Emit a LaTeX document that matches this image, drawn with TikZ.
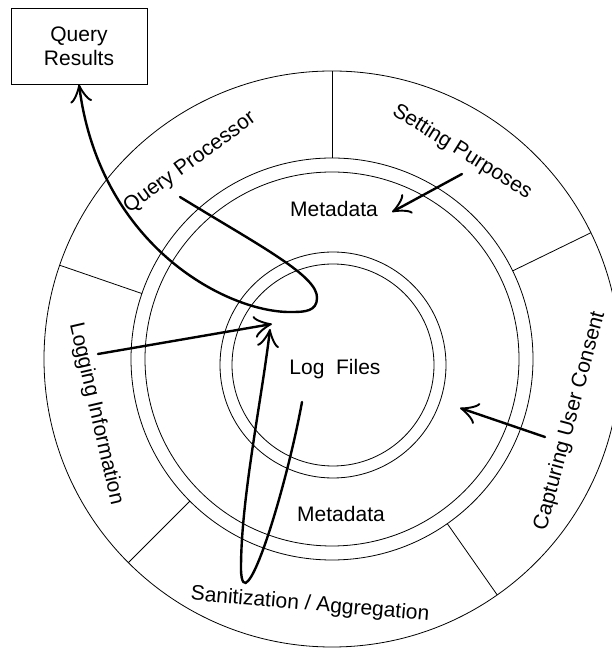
\documentclass[tikz,border=0pt]{standalone}
\usepackage{fontspec}
\setmainfont{Liberation Sans}
\usetikzlibrary{arrows.meta}
\begin{document}
\begin{tikzpicture}[x=1bp,y=1bp,
  ring/.style={line width=0.8bp},
  lbl/.style={font=\fontsize{21bp}{24bp}\selectfont, inner sep=0pt},
  arr/.style={line width=2.4bp, line cap=round, -{Classical TikZ Rightarrow[length=18bp,width=22bp]}},
]
\useasboundingbox (0,0) rectangle (612,648);
\coordinate (O) at (332,289);
\coordinate (I) at (333,283);
\draw[ring] (O) circle[radius=288];
\draw[ring] (O) circle[radius=201];
\draw[ring] (O) circle[radius=187];
\draw[ring] (I) circle[radius=113];
\draw[ring] (I) circle[radius=101];
\foreach \a in {90,26,-55,225,161} \draw[ring] (O) ++(\a:201) -- ++(\a:87);

\node[lbl, rotate=36] (qp) at (190,485) {Query Processor};
\node[lbl, rotate=-32] (sp) at (462,496) {Setting Purposes};
\node[lbl, rotate=75] (cuc) at (570,227) {Capturing User Consent};
\node[lbl, rotate=-77] (li) at (96,234) {Logging Information};
\node[lbl, rotate=-5] (sa) at (310,43) {Sanitization / Aggregation};
\node[lbl, anchor=base] (md1) at (334,431) {Metadata};
\node[lbl, anchor=base] (md2) at (341,126) {Metadata};
\node[lbl, anchor=base] (lf) at (335,273) {Log\ \ Files};
\node[lbl, draw, ring, minimum width=136bp, minimum height=76bp, align=center] (qr) at (79,602) {Query\\Results};

\coordinate (s1) at (180,451);
\draw[arr] (s1) .. controls (260,402) and (318,372) .. (317,350) .. controls (317,337) and (305,336) .. (293,336) .. controls (230,334) and (100,400) .. (qr.south);
\coordinate (s2) at (98,294);
\coordinate (t1) at (272,324);
\draw[arr] (s2) -- (t1);
\coordinate (s3) at (302,246);
\coordinate (t3) at (270,319);
\draw[arr] (s3) .. controls (290,180) and (262,82) .. (248,67) .. controls (245,63) and (241,64) .. (241,80) .. controls (241,150) and (262,250) .. (t3);
\coordinate (s4) at (462,474);
\coordinate (t4) at (392,436);
\draw[arr] (s4) -- (t4);
\coordinate (s5) at (545,211);
\coordinate (t5) at (460,240);
\draw[arr] (s5) -- (t5);
\end{tikzpicture}
\end{document}
